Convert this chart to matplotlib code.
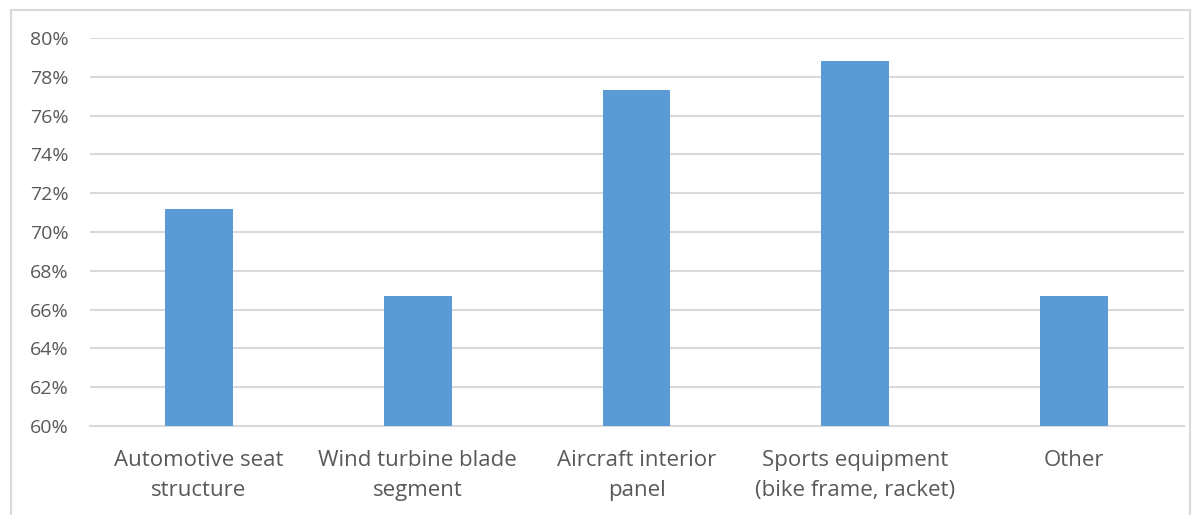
import matplotlib
matplotlib.use("Agg")
import matplotlib.pyplot as plt
from matplotlib.patches import Rectangle
from matplotlib.ticker import FuncFormatter

categories = ["Automotive seat\nstructure", "Wind turbine blade\nsegment", "Aircraft interior\npanel",
              "Sports equipment\n(bike frame, racket)", "Other"]
values = [71.2, 66.7, 77.3, 78.8, 66.7]
yticks = [60, 62, 64, 66, 68, 70, 72, 74, 76, 78, 80]

W, H = 1201, 515
fig = plt.figure(figsize=(W / 100, H / 100), dpi=100)
plt.rcParams['font.family'] = ['Open Sans', 'DejaVu Sans']

fig.patches.append(Rectangle((11 / W, -0.01), (1190 - 11) / W, 1 - 10 / H + 0.01,
                             transform=fig.transFigure, fill=False, edgecolor='#d9d9d9', linewidth=1.5))

left, right, top, bottom = 89.5, 1183.5, 38, 426
ax = fig.add_axes([left / W, 1 - bottom / H, (right - left) / W, (bottom - top) / H])
x = list(range(len(categories)))
ax.bar(x, [v - 60 for v in values], bottom=60, width=0.31, color='#5b9bd5', zorder=3)
ax.set_xlim(-0.5, len(categories) - 0.5)
ax.set_ylim(60, 80)
ax.set_yticks(yticks)
ax.yaxis.set_major_formatter(FuncFormatter(lambda v, p: f"{v:.0f}%"))
ax.grid(axis='y', color='#d9d9d9', linewidth=1.5, zorder=0)
ax.set_xticks(x)
ax.set_xticklabels(categories, fontsize=16, color='#595959', linespacing=1.6)
for lab in ax.get_yticklabels():
    lab.set_fontsize(14)
    lab.set_color('#595959')
ax.tick_params(axis='both', length=0)
ax.tick_params(axis='x', pad=17)
ax.tick_params(axis='y', pad=15)
for s in ax.spines.values():
    s.set_visible(False)
ax.spines['bottom'].set_visible(True)
ax.spines['bottom'].set_color('#d9d9d9')
ax.spines['bottom'].set_linewidth(1.5)
fig.savefig("out.png", dpi=100)
